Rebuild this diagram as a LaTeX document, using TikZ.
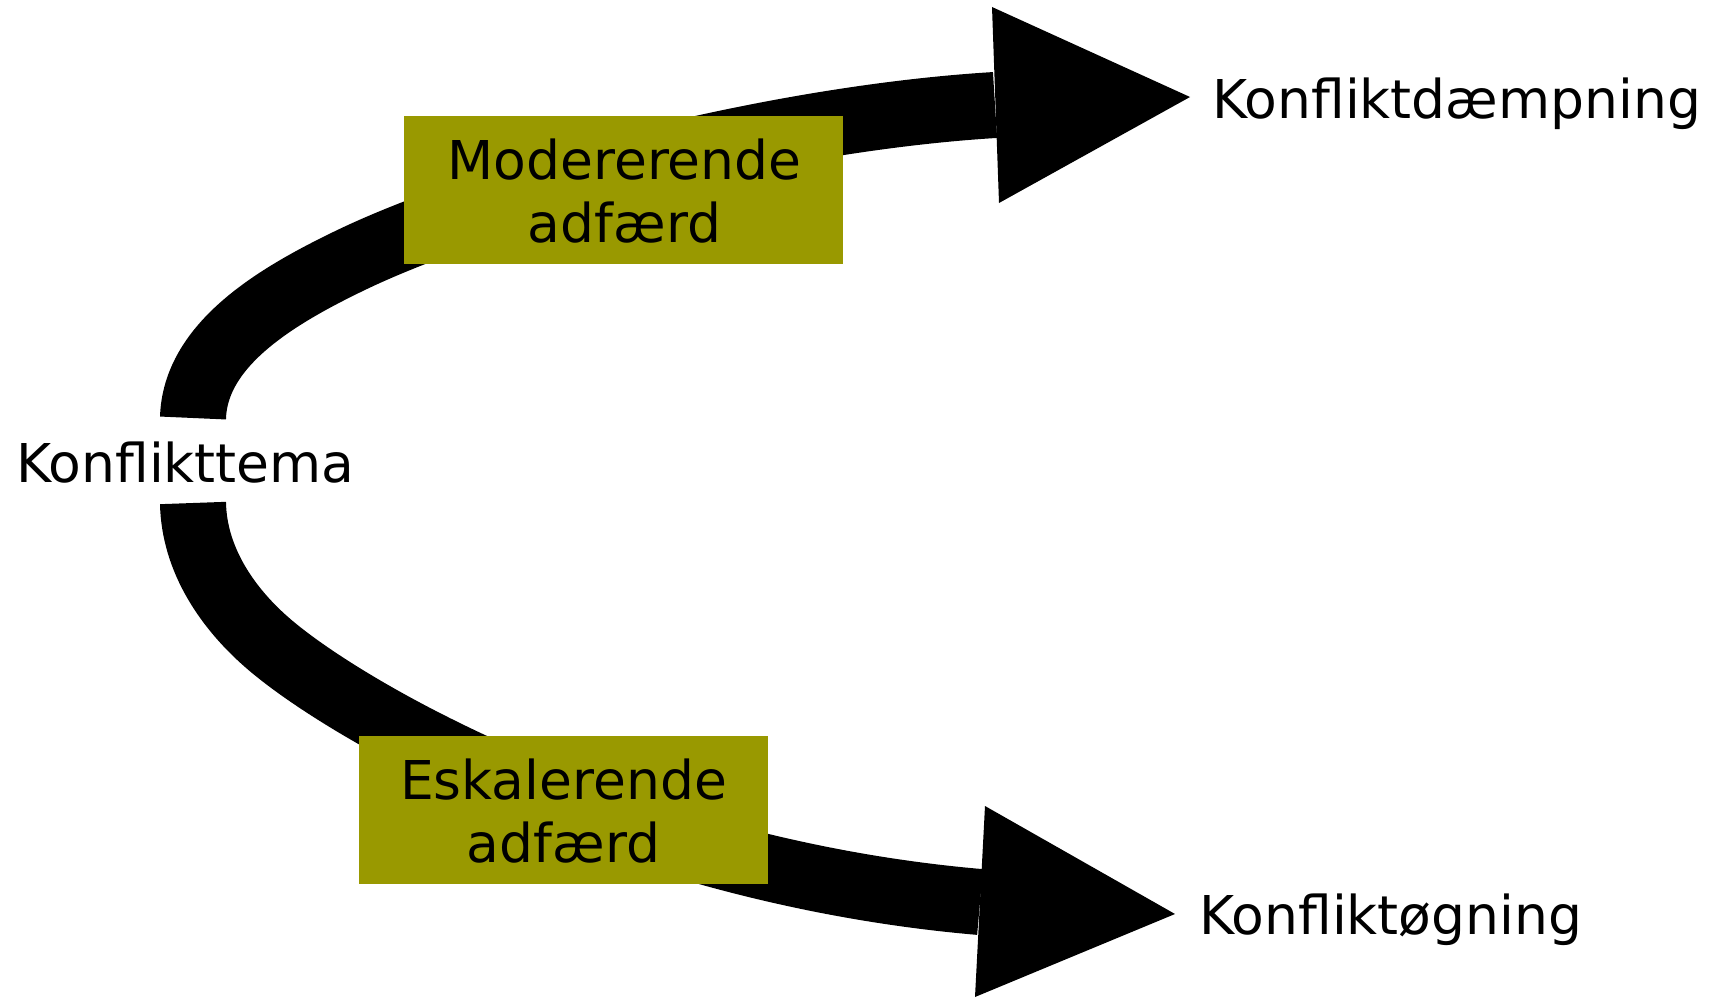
\documentclass[tikz,border=0pt]{standalone}
\usepackage{fontspec}
\setmainfont{DejaVu Sans}
\definecolor{boxolive}{RGB}{153,153,0}
\tikzset{
  shaft/.style={line width=66pt, draw=black, line cap=butt},
  headfill/.style={fill=black},
  behaviour/.style={fill=boxolive, draw=none, inner sep=0pt},
  lbl/.style={inner sep=0pt, font=\fontsize{53.5}{63}\selectfont, text=black}
}
\begin{document}
\begin{tikzpicture}[x=1pt, y=-1pt]
\useasboundingbox (0,0) rectangle (1717,998);
% coordinates
\coordinate (s1) at (193,418);
\coordinate (m1) at (347,262);
\coordinate (e1) at (995,105);
\coordinate (h1a) at (992,7);
\coordinate (h1t) at (1190,97);
\coordinate (h1b) at (999,203);
\coordinate (s2) at (193,503);
\coordinate (m2) at (270,645);
\coordinate (e2) at (980,902);
\coordinate (h2a) at (985,806);
\coordinate (h2t) at (1175,914);
\coordinate (h2b) at (975,997);
% upper arrow
\draw[shaft] (s1) .. controls (195,345) and (275,297) .. (m1)
  .. controls (482,196) and (765,119) .. (e1);
\fill[headfill] (h1a) -- (h1t) -- (h1b) -- cycle;
% lower arrow
\draw[shaft] (s2) .. controls (194,560) and (228.1,609.4) .. (m2)
  .. controls (353.8,716.3) and (631,872) .. (e2);
\fill[headfill] (h2a) -- (h2t) -- (h2b) -- cycle;
% boxes
\node[behaviour, minimum width=439pt, minimum height=148pt] (mod) at (623.5,190) {};
\node[behaviour, minimum width=409pt, minimum height=148pt] (esk) at (563.5,810) {};
\node[lbl, anchor=base] (modA) at (624.5,179) {Modererende};
\node[lbl, anchor=base] (modB) at (624.5,242) {adfærd};
\node[lbl, anchor=base] (eskA) at (563.5,799) {Eskalerende};
\node[lbl, anchor=base] (eskB) at (563.5,862) {adfærd};
% end labels
\node[lbl, anchor=base west] (tema) at (16,482) {Konflikttema};
\node[lbl, anchor=base west] (daemp) at (1212,118) {Konfliktdæmpning};
\node[lbl, anchor=base west] (oeg) at (1199,934) {Konfliktøgning};
\end{tikzpicture}
\end{document}
